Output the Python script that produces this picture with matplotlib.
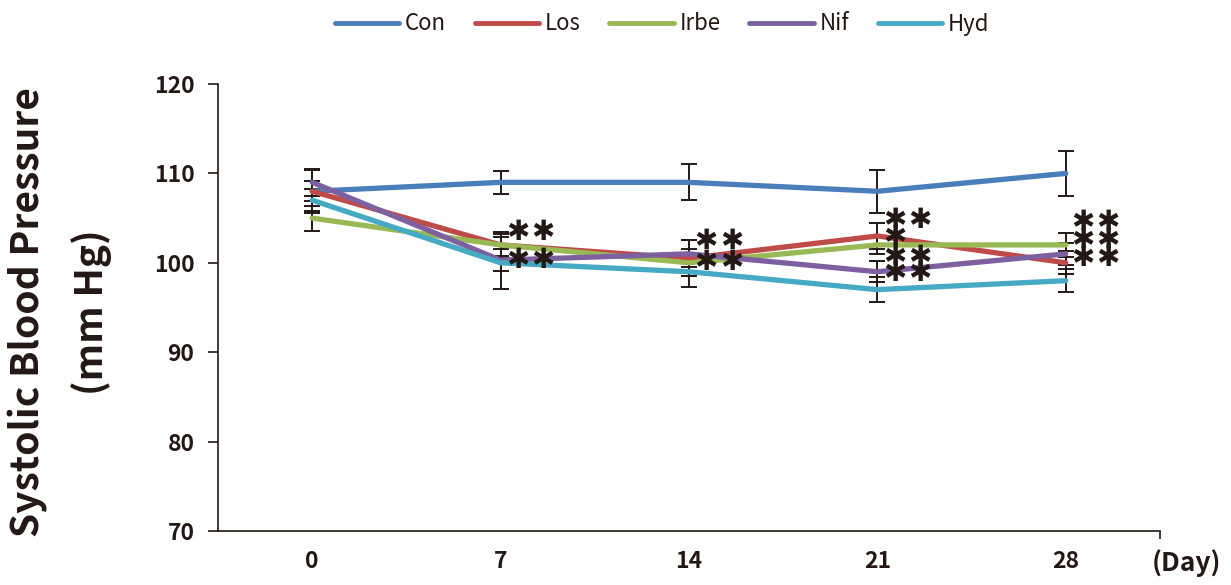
import matplotlib
matplotlib.use("Agg")
import matplotlib.pyplot as plt
import numpy as np

plt.rcParams['font.family'] = ['Noto Sans CJK SC', 'DejaVu Sans']

days = ["0", "7", "14", "21", "28"]
series_names = ["Con", "Los", "Irbe", "Nif", "Hyd"]
con = [108, 109, 109, 108, 110]
los = [108, 102, 100.5, 103, 100]
irbe = [105, 102, 100, 102, 102]
nif = [109, 100.3, 101, 99, 101]
hyd = [107, 100, 99, 97, 98]
con_err = [2.4, 1.3, 2.0, 2.4, 2.5]
los_err = [1.1, 1.5, 2.0, 1.5, 1.3]
irbe_err = [1.4, 1.2, 1.5, 1.0, 1.3]
nif_err = [1.5, 1.2, 1.5, 1.2, 1.2]
hyd_err = [1.2, 2.9, 1.7, 1.4, 1.3]
colors = ["#4A7EBB", "#BE4B48", "#98B954", "#7D60A0", "#46AAC5"]

# significance annotations: (day index, y value, number of asterisks)
sig_marks = [
    (1, 103.4, 2), (1, 100.3, 2),
    (2, 102.4, 2), (2, 100.1, 2),
    (3, 104.8, 2), (3, 102.9, 1), (3, 100.6, 2), (3, 98.9, 2),
    (4, 104.6, 2), (4, 102.6, 2), (4, 100.5, 2),
]

fig = plt.figure(figsize=(12.31, 5.85), dpi=100)
ax = fig.add_axes([218/1231, 1 - 531/585, (1160-218)/1231, (531-84)/585])

x = np.arange(len(days))
values = [con, los, irbe, nif, hyd]
errs = [con_err, los_err, irbe_err, nif_err, hyd_err]
for name, v, e, c in zip(series_names, values, errs, colors):
    ax.errorbar(x, v, yerr=e, fmt='none', ecolor='#231815', elinewidth=1.4,
                capsize=6, capthick=1.4, zorder=2)
for name, v, c in zip(series_names, values, colors):
    ax.plot(x, v, color=c, lw=3.8, label=name, zorder=3, solid_capstyle='round')

col_offsets = [0.09, 0.225]
for xi, yv, n in sig_marks:
    for k in range(n):
        ax.text(xi + col_offsets[k], yv, "✱", ha='center', va='center', fontsize=20,
                family=['DejaVu Sans'], fontweight='bold', color='#231815', zorder=4)

ax.set_xlim(-0.5, 4.5)
ax.set_ylim(70, 120)
ax.set_yticks([70, 80, 90, 100, 110, 120])
ax.set_xticks(x)
ax.set_xticklabels(days)
ax.set_xticks([4.5], minor=True)
ax.tick_params(axis='x', which='major', length=0, pad=14)
ax.tick_params(axis='x', which='minor', length=6, width=1.2, color='#231815', direction='out')
ax.tick_params(axis='y', length=7, width=1.2, color='#231815', direction='out', pad=10)
for lab in ax.get_xticklabels() + ax.get_yticklabels():
    lab.set_fontsize(16.5)
    lab.set_fontweight('bold')
    lab.set_color('#231815')
for s in ['top', 'right']:
    ax.spines[s].set_visible(False)
for s in ['left', 'bottom']:
    ax.spines[s].set_color('#231815')
    ax.spines[s].set_linewidth(1.2)

fig.text(28/1231, 1 - 312/585, "Systolic Blood Pressure", rotation=90, ha='center', va='center',
         fontsize=28, fontweight='heavy', color='#231815')
fig.text(92/1231, 1 - 312/585, "(mm Hg)", rotation=90, ha='center', va='center',
         fontsize=28, fontweight='heavy', color='#231815')
fig.text(1186/1231, 1 - 563/585, "(Day)", ha='center', va='center',
         fontsize=19, fontweight='bold', color='#231815')

leg = fig.legend(loc='center', bbox_to_anchor=(662/1231, 1 - 24/585), ncol=5, frameon=False,
                 fontsize=16, handlelength=2.9, handletextpad=0.25, columnspacing=1.3)
for line in leg.get_lines():
    line.set_linewidth(3.5)
for t in leg.get_texts():
    t.set_color('#231815')

fig.savefig("out.png", dpi=100)
